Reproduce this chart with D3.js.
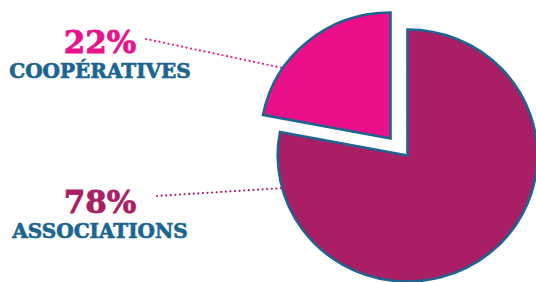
<!DOCTYPE html>
<html>
<head>
<meta charset="utf-8">
<style>
  html, body { margin: 0; padding: 0; background: #fff; }
  svg { display: block; }
  .pct { font-family: "DejaVu Serif", serif; font-weight: bold; }
  .lbl { font-family: "DejaVu Serif", serif; font-weight: bold; fill: #1b6592; stroke: #1b6592; stroke-width: 0.7; }
</style>
</head>
<body>
<svg id="chart" width="536" height="282"></svg>
<script src="https://cdnjs.cloudflare.com/ajax/libs/d3/7.8.5/d3.min.js"></script>
<script>
// data
var categories = ["ASSOCIATIONS", "COOPÉRATIVES"];
var values = [78, 22];
var colors = ["#a91e64", "#ec0f8a"];
var pctColors = ["#a91e64", "#e8138a"];

var svg = d3.select("#chart");

var cx = 407.5, cy = 155.5, r = 126, sx = 1.03;

var pie = d3.pie().sort(null).startAngle(0).endAngle(2 * Math.PI);
var arcs = pie(values);
var arc = d3.arc().innerRadius(0).outerRadius(r);

// small slice is pulled out up-left
var explode = [[0, 0], [-17, -17]];

var g = svg.append("g").attr("transform", "translate(" + cx + "," + cy + ")");

g.selectAll("path.slice")
    .data(arcs)
    .enter()
    .append("path")
    .attr("class", "slice")
    .attr("transform", function(d, i) {
        return "translate(" + explode[i][0] + "," + explode[i][1] + ") scale(" + sx + ",1)";
    })
    .attr("d", arc)
    .attr("fill", function(d, i) { return colors[i]; })
    .attr("stroke", "#1f6390")
    .attr("stroke-width", 2.6)
    .attr("vector-effect", "non-scaling-stroke")
    .attr("stroke-linejoin", "miter");

// label positions and where the leader line meets the slice
var labelY = [213, 53];      // baseline of percentage
var hitAngle = [255, 304];   // degrees clockwise from top
var lineStart = [[157, 196], [146, 39]];

function edgePoint(i) {
    var a = hitAngle[i] * Math.PI / 180;
    return [cx + explode[i][0] + Math.sin(a) * r * sx,
            cy + explode[i][1] - Math.cos(a) * r];
}

categories.forEach(function(c, i) {
    var p = edgePoint(i);
    svg.append("line")
        .attr("x1", lineStart[i][0]).attr("y1", lineStart[i][1])
        .attr("x2", p[0]).attr("y2", p[1])
        .attr("stroke", pctColors[i])
        .attr("stroke-width", 2.2)
        .attr("stroke-linecap", "round")
        .attr("stroke-dasharray", "0 4.6");

    svg.append("text")
        .attr("class", "pct")
        .attr("x", 100).attr("y", labelY[i])
        .attr("text-anchor", "middle")
        .attr("font-size", 31)
        .attr("fill", pctColors[i])
        .attr("stroke", pctColors[i])
        .attr("stroke-width", 0.8)
        .text(values[i] + "%");

    svg.append("text")
        .attr("class", "lbl")
        .attr("x", 100).attr("y", labelY[i] + 25)
        .attr("text-anchor", "middle")
        .attr("font-size", 20)
        .text(c);
});
</script>
</body>
</html>
